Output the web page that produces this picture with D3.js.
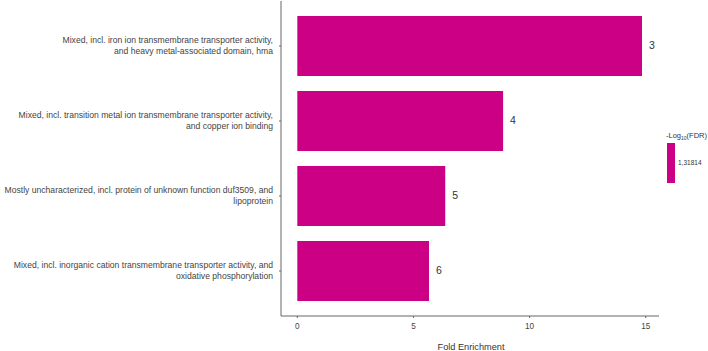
<!DOCTYPE html>
<html>
<head>
<meta charset="utf-8">
<script src="https://cdn.jsdelivr.net/npm/d3@7"></script>
<style>
  body { margin: 0; background: #fff; }
  text { font-family: "Liberation Sans", Arial, sans-serif; }
</style>
</head>
<body>
<div id="chart"></div>
<script>
(function() {
	var width = 708, height = 351;

	// terms, top to bottom
	var terms = [
		["Mixed, incl. iron ion transmembrane transporter activity,", "and heavy metal-associated domain, hma"],
		["Mixed, incl. transition metal ion transmembrane transporter activity,", "and copper ion binding"],
		["Mostly uncharacterized, incl. protein of unknown function duf3509, and", "lipoprotein"],
		["Mixed, incl. inorganic cation transmembrane transporter activity, and", "oxidative phosphorylation"]
	];
	var termIds = ["t1", "t2", "t3", "t4"];
	var foldEnrichment = [14.84, 8.86, 6.37, 5.67];
	var barLabels = ["3", "4", "5", "6"];
	var xTicks = [0, 5, 10, 15];
	var legendValue = "1,31814";

	var data = termIds.map(function(id, i) {
		return { id: id, lines: terms[i], fe: foldEnrichment[i], lab: barLabels[i] };
	});

	var barColor = "#cc0085";
	var axisColor = "#666";
	var textColor = "#444";

	var svg = d3.select("#chart")
		.append("svg")
		.attr("width", width)
		.attr("height", height);

	var left = 281, right = 659, top = 1, bottom = 316;

	var x = d3.scaleLinear().domain([0, 15]).range([297.3, 645.7]);
	var y = d3.scaleBand().domain(termIds).range([top, bottom])
		.paddingInner(0.2).paddingOuter(0.2);

	// bars
	svg.selectAll(".bar")
		.data(data)
		.enter().append("rect")
		.attr("class", "bar")
		.attr("x", x(0))
		.attr("y", function(d) { return y(d.id); })
		.attr("width", function(d) { return x(d.fe) - x(0); })
		.attr("height", y.bandwidth())
		.attr("fill", barColor);

	// count labels
	svg.selectAll(".count")
		.data(data)
		.enter().append("text")
		.attr("class", "count")
		.attr("x", function(d) { return x(d.fe) + 7; })
		.attr("y", function(d) { return y(d.id) + y.bandwidth() / 2 - 1; })
		.attr("dy", "0.35em")
		.attr("font-size", 10.5)
		.attr("fill", "#333")
		.text(function(d) { return d.lab; });

	// axes lines
	svg.append("line")
		.attr("x1", left).attr("x2", left)
		.attr("y1", top).attr("y2", bottom)
		.attr("stroke", axisColor).attr("stroke-width", 1);
	svg.append("line")
		.attr("x1", left).attr("x2", right)
		.attr("y1", bottom).attr("y2", bottom)
		.attr("stroke", axisColor).attr("stroke-width", 1);

	// y ticks + labels
	var yg = svg.selectAll(".ylab")
		.data(data)
		.enter().append("g")
		.attr("class", "ylab")
		.attr("transform", function(d) { return "translate(0," + (y(d.id) + y.bandwidth() / 2) + ")"; });
	yg.append("line")
		.attr("x1", left - 2).attr("x2", left)
		.attr("stroke", axisColor);
	yg.append("text")
		.attr("text-anchor", "end")
		.attr("x", 273)
		.attr("font-size", 8.6)
		.attr("fill", textColor)
		.selectAll("tspan")
		.data(function(d) { return d.lines; })
		.enter().append("tspan")
		.attr("x", 273)
		.attr("y", function(d, i) { return (i - 0.5) * 11 - 1; })
		.attr("dy", "0.35em")
		.text(function(d) { return d; });

	// x ticks
	var xg = svg.selectAll(".xt")
		.data(xTicks)
		.enter().append("g")
		.attr("class", "xt")
		.attr("transform", function(d) { return "translate(" + x(d) + "," + bottom + ")"; });
	xg.append("line")
		.attr("y1", 0).attr("y2", 2)
		.attr("stroke", axisColor);
	xg.append("text")
		.attr("y", 10)
		.attr("dy", "0.35em")
		.attr("text-anchor", "middle")
		.attr("font-size", 8.2)
		.attr("fill", textColor)
		.text(function(d) { return d; });

	svg.append("text")
		.attr("x", 471)
		.attr("y", 347)
		.attr("dy", "0.35em")
		.attr("text-anchor", "middle")
		.attr("font-size", 9.2)
		.attr("fill", "#333")
		.text("Fold Enrichment");

	// legend
	var lg = svg.append("g");
	var lt = lg.append("text")
		.attr("x", 666)
		.attr("y", 135.5)
		.attr("dy", "0.35em")
		.attr("font-size", 7.5)
		.attr("fill", "#333");
	lt.append("tspan").text("-Log");
	lt.append("tspan").attr("font-size", 5).attr("dy", 2).text("10");
	lt.append("tspan").attr("dy", -2).text("(FDR)");
	lg.append("rect")
		.attr("x", 667).attr("y", 143)
		.attr("width", 8).attr("height", 40)
		.attr("fill", barColor);
	lg.append("text")
		.attr("x", 678)
		.attr("y", 163)
		.attr("dy", "0.35em")
		.attr("font-size", 6.5)
		.attr("fill", "#333")
		.text(legendValue);
})();
</script>
</body>
</html>
